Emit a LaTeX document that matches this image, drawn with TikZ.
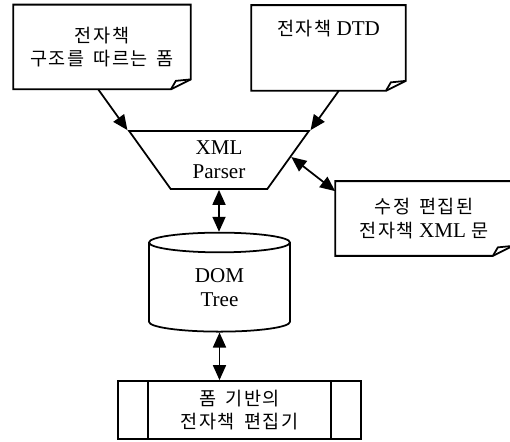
\documentclass[tikz,border=0pt]{standalone}
\usepackage{fontspec}
\setmainfont{Liberation Serif}
\newfontfamily\kr[Scale=0.88, LetterSpace=8, WordSpace=1.6]{Noto Sans CJK KR}
\usetikzlibrary{shapes.geometric,arrows.meta,calc}

\newcommand\foldnote[1]{%
  \draw (#1.north west) -- (#1.north east) -- ([yshift=0.2cm]#1.south east)
    -- ([xshift=-0.4cm]#1.south east) -- (#1.south west) -- cycle;
  \draw ([xshift=-0.4cm]#1.south east) -- ([xshift=-0.3cm,yshift=0.17cm]#1.south east)
    -- ([yshift=0.2cm]#1.south east);}

\begin{document}
\begin{tikzpicture}[x=0.02cm, y=-0.02cm, line width=1pt,
  >={Triangle[length=0.3cm,width=0.26cm]},
  font=\fontsize{12}{13.5}\selectfont,
  doc/.style={minimum width=3.52cm, minimum height=1.66cm, align=center, inner sep=0pt},
  parser/.style={draw, trapezium, shape border rotate=180, trapezium stretches=true,
    trapezium angle=59, minimum width=3.6cm, minimum height=1.16cm, align=center, inner sep=0pt},
  db/.style={draw, cylinder, shape border rotate=90, aspect=0.4,
    minimum width=2.82cm, minimum height=1.98cm, align=center, inner sep=0pt},
  proc/.style={draw, minimum width=4.86cm, minimum height=1.16cm, align=center,
    path picture={\draw ([xshift=0.6cm]path picture bounding box.north west)
      -- ([xshift=0.6cm]path picture bounding box.south west)
      ([xshift=-0.6cm]path picture bounding box.north east)
      -- ([xshift=-0.6cm]path picture bounding box.south east);}}]
  \useasboundingbox (0,0) rectangle (510,442);

  \node[doc] (form) at (102,47) {{\kr 전자책}\\{\kr 구조를 따르는 폼}};
  \node[doc, minimum width=3.06cm, minimum height=1.68cm, text height=0.3cm, text depth=0.8cm] (dtd) at (328.5,48) {{\kr 전자책} DTD};
  \node[doc, minimum height=1.46cm] (edited) at (424,218.5) {{\kr 수정 편집된}\\{\kr 전자책} XML {\kr 문}};
  \node[parser] (parser) at (219,160) {XML\\Parser};
  \node[db] (db) at (219.5,287.5) {DOM\\Tree};
  \node[proc] (editor) at (239.5,410) {{\kr 폼 기반의}\\{\kr 전자책 편집기}};

  \foreach \n in {form,dtd,edited} {\foldnote{\n}}

  \draw[->] (intersection of parser.bottom right corner--parser.top right corner and form.south west--form.south east) -- (parser.bottom right corner);
  \draw[->] (intersection of parser.bottom left corner--parser.top left corner and dtd.south west--dtd.south east) -- (parser.bottom left corner);
  \draw[<->] ($(parser.bottom left corner)!0.45!(parser.top left corner)$) -- ([yshift=-0.2cm]edited.north west);
  \draw[<->] (parser.south) -- (parser.south |- db.north);
  \draw[<->] (db.south) -- (db.south |- editor.north);
\end{tikzpicture}
\end{document}
